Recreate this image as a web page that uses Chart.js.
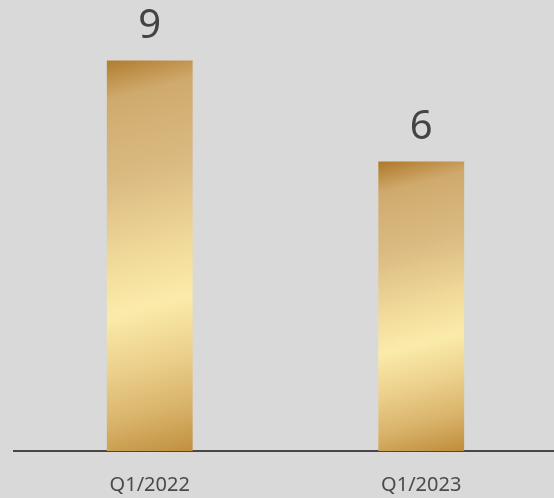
<!DOCTYPE html>
<html>
<head>
<meta charset="utf-8">
<script src="https://cdn.jsdelivr.net/npm/chart.js@4"></script>
<style>
  html, body { margin: 0; padding: 0; background: #d9d9d9; overflow: hidden; }
  #wrap { width: 557px; height: 498px; }
</style>
</head>
<body>
<div id="wrap"><canvas id="chart"></canvas></div>
<script>
// data
const quarters = ["Q1/2022", "Q1/2023"];
const counts = [9, 6];

// gold gradient stops
const goldStops = [
  [0, "#b07a2a"],
  [0.1, "#cfaa6e"],
  [0.3, "#dbbb82"],
  [0.5, "#f1db9b"],
  [0.62, "#fbebaa"],
  [0.76, "#ebcf8a"],
  [0.88, "#d9b36a"],
  [1, "#bf8e3d"]
];

const axisMin = -2.6;

function goldFill(ctx) {
  const chart = ctx.chart;
  const xs = chart.scales.x, ys = chart.scales.y;
  if (!xs || !ys || !chart.chartArea || ctx.dataIndex === undefined) return "#d8b574";
  const top = ys.getPixelForValue(ctx.raw);
  const bottom = ys.getPixelForValue(axisMin);
  const cx = xs.getPixelForValue(ctx.dataIndex);
  const h = bottom - top;
  const g = chart.ctx.createLinearGradient(cx - 0.13 * h, top, cx + 0.13 * h, bottom);
  goldStops.forEach(s => g.addColorStop(s[0], s[1]));
  return g;
}

// value labels above the bars
const valueLabels = {
  id: "valueLabels",
  afterDatasetsDraw(chart) {
    const c = chart.ctx;
    const meta = chart.getDatasetMeta(0);
    c.save();
    c.fillStyle = "#444444";
    c.font = "40px 'Noto Sans'";
    c.textAlign = "center";
    c.textBaseline = "alphabetic";
    meta.data.forEach((bar, i) => {
      c.fillText(String(counts[i]), bar.x, bar.y - 23);
    });
    c.restore();
  }
};

new Chart(document.getElementById("chart"), {
  type: "bar",
  data: {
    labels: quarters,
    datasets: [{
      data: counts,
      base: axisMin,
      backgroundColor: goldFill,
      borderWidth: 0,
      barPercentage: 1,
      categoryPercentage: 0.316
    }]
  },
  options: {
    responsive: true,
    maintainAspectRatio: false,
    animation: false,
    layout: { padding: { left: 14, right: 0, top: 0, bottom: 0 } },
    plugins: { legend: { display: false }, tooltip: { enabled: false } },
    scales: {
      x: {
        grid: { display: false, drawTicks: false },
        border: { color: "#474747", width: 2 },
        ticks: { color: "#4a4a4a", font: { family: "'Noto Sans'", size: 20 }, padding: 22 },
        afterFit(scale) { scale.height = 47; }
      },
      y: {
        display: false,
        min: axisMin,
        max: 10.8
      }
    }
  },
  plugins: [valueLabels]
});
</script>
</body>
</html>
